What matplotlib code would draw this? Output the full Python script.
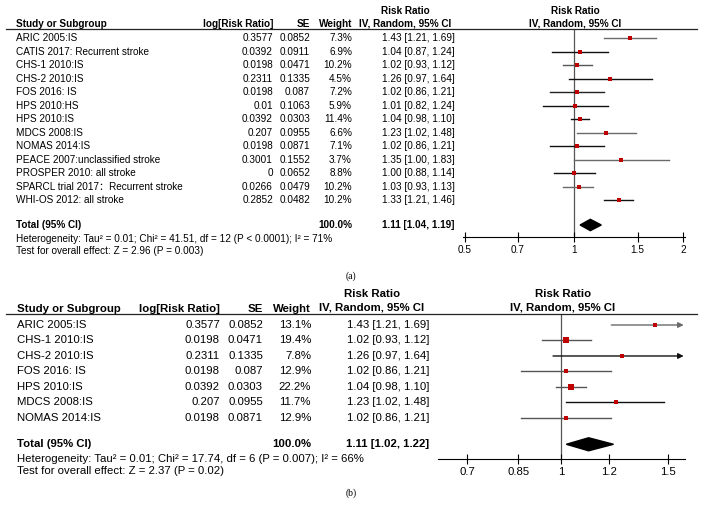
import matplotlib
matplotlib.use('Agg')
import matplotlib.pyplot as plt
from matplotlib.transforms import blended_transform_factory
from matplotlib.lines import Line2D

plt.rcParams['font.family'] = ['Liberation Sans', 'Noto Sans CJK SC', 'DejaVu Sans']

# ---- data, panel (a) ----
studies_a = ['ARIC 2005:IS', 'CATIS 2017: Recurrent stroke', 'CHS-1 2010:IS', 'CHS-2 2010:IS',
             'FOS 2016: IS', 'HPS 2010:HS', 'HPS 2010:IS', 'MDCS 2008:IS', 'NOMAS 2014:IS',
             'PEACE 2007:unclassified stroke', 'PROSPER 2010: all stroke',
             'SPARCL trial 2017\uff1aRecurrent stroke', 'WHI-OS 2012: all stroke']
logrr_a = ['0.3577', '0.0392', '0.0198', '0.2311', '0.0198', '0.01', '0.0392', '0.207',
           '0.0198', '0.3001', '0', '0.0266', '0.2852']
se_a = ['0.0852', '0.0911', '0.0471', '0.1335', '0.087', '0.1063', '0.0303', '0.0955',
        '0.0871', '0.1552', '0.0652', '0.0479', '0.0482']
weight_a = [7.3, 6.9, 10.2, 4.5, 7.2, 5.9, 11.4, 6.6, 7.1, 3.7, 8.8, 10.2, 10.2]
rr_a = [1.43, 1.04, 1.02, 1.26, 1.02, 1.01, 1.04, 1.23, 1.02, 1.35, 1.00, 1.03, 1.33]
lo_a = [1.21, 0.87, 0.93, 0.97, 0.86, 0.82, 0.98, 1.02, 0.86, 1.00, 0.88, 0.93, 1.21]
hi_a = [1.69, 1.24, 1.12, 1.64, 1.21, 1.24, 1.10, 1.48, 1.21, 1.83, 1.14, 1.13, 1.46]
total_a = (1.11, 1.04, 1.19)
het_a = 'Heterogeneity: Tau\u00b2 = 0.01; Chi\u00b2 = 41.51, df = 12 (P < 0.0001); I\u00b2 = 71%'
eff_a = 'Test for overall effect: Z = 2.96 (P = 0.003)'
ticks_a = [0.5, 0.7, 1, 1.5, 2]

# ---- data, panel (b) ----
studies_b = ['ARIC 2005:IS', 'CHS-1 2010:IS', 'CHS-2 2010:IS', 'FOS 2016: IS', 'HPS 2010:IS',
             'MDCS 2008:IS', 'NOMAS 2014:IS']
logrr_b = ['0.3577', '0.0198', '0.2311', '0.0198', '0.0392', '0.207', '0.0198']
se_b = ['0.0852', '0.0471', '0.1335', '0.087', '0.0303', '0.0955', '0.0871']
weight_b = [13.1, 19.4, 7.8, 12.9, 22.2, 11.7, 12.9]
rr_b = [1.43, 1.02, 1.26, 1.02, 1.04, 1.23, 1.02]
lo_b = [1.21, 0.93, 0.97, 0.86, 0.98, 1.02, 0.86]
hi_b = [1.69, 1.12, 1.64, 1.21, 1.10, 1.48, 1.21]
total_b = (1.11, 1.02, 1.22)
het_b = 'Heterogeneity: Tau\u00b2 = 0.01; Chi\u00b2 = 17.74, df = 6 (P = 0.007); I\u00b2 = 66%'
eff_b = 'Test for overall effect: Z = 2.37 (P = 0.02)'
ticks_b = [0.7, 0.85, 1, 1.2, 1.5]

# CI line shades as they appear in the figure
shade_a = ['#6a6a6a', '#111111', '#555555', '#111111', '#222222', '#111111', '#111111',
           '#6a6a6a', '#111111', '#6a6a6a', '#111111', '#6a6a6a', '#111111']
shade_b = ['#6a6a6a', '#555555', '#111111', '#555555', '#555555', '#111111', '#555555']

W, H = 702, 522
fig = plt.figure(figsize=(W / 100, H / 100), dpi=100)
RED = '#c00000'


def fx(px):
    return px / W


def fy(py):
    return 1 - py / H


def panel(box, xlim, ylim, studies, logrr, se, weight, rr, lo, hi, total, het, eff, ticks,
          shade, cols, fs, y_total, y_het, y_eff, msk, dh, label, label_y, hdr):
    left, right, top, bottom = box
    ax = fig.add_axes([fx(left), fy(bottom), fx(right - left), (bottom - top) / H])
    ax.set_xscale('log')
    ax.set_xlim(*xlim)
    ax.set_ylim(*ylim)
    for s in ['top', 'right', 'left']:
        ax.spines[s].set_visible(False)
    ax.spines['bottom'].set_linewidth(0.8)
    ax.set_yticks([])
    ax.set_xticks(ticks)
    ax.set_xticklabels([('%g' % t) for t in ticks], fontsize=fs)
    ax.minorticks_off()
    ax.tick_params(axis='x', direction='inout', length=7, width=0.8, pad=2)
    ax.axvline(1, color='#555555', lw=0.9, zorder=1)

    n = len(studies)
    for i in range(n):
        x0, x1 = lo[i], hi[i]
        if x1 > xlim[1]:
            ax.annotate('', xy=(xlim[1] * 0.995, i), xytext=(x0, i),
                        arrowprops=dict(arrowstyle='-|>', color=shade[i], lw=1.0,
                                        mutation_scale=8, shrinkA=0, shrinkB=0))
        else:
            ax.plot([x0, x1], [i, i], color=shade[i], lw=1.0, zorder=2)
        ms = max(2.6, msk * weight[i] ** 0.5)
        ax.plot(rr[i], i, marker='s', color=RED, markersize=ms, markeredgewidth=0, zorder=3)
    m, l, u = total
    ax.fill([l, m, u, m], [y_total, y_total - dh, y_total, y_total + dh], color='black',
            zorder=3)

    tr = blended_transform_factory(fig.transFigure, ax.transData)
    c_study, c_log, c_se, c_w, c_ci, ci_ha = cols
    for i in range(n):
        ax.text(fx(c_study), i, studies[i], transform=tr, fontsize=fs, va='center', ha='left')
        ax.text(fx(c_log), i, logrr[i], transform=tr, fontsize=fs, va='center', ha='right')
        ax.text(fx(c_se), i, se[i], transform=tr, fontsize=fs, va='center', ha='right')
        ax.text(fx(c_w), i, '%.1f%%' % weight[i], transform=tr, fontsize=fs, va='center',
                ha='right')
        ax.text(fx(c_ci), i, '%.2f [%.2f, %.2f]' % (rr[i], lo[i], hi[i]), transform=tr,
                fontsize=fs, va='center', ha=ci_ha)
    ax.text(fx(c_study), y_total, 'Total (95% CI)', transform=tr, fontsize=fs, va='center',
            ha='left', fontweight='bold')
    ax.text(fx(c_w), y_total, '100.0%', transform=tr, fontsize=fs, va='center', ha='right',
            fontweight='bold')
    ax.text(fx(c_ci), y_total, '%.2f [%.2f, %.2f]' % total, transform=tr, fontsize=fs,
            va='center', ha=ci_ha, fontweight='bold')
    fig.text(fx(c_study), fy(y_het), het, fontsize=fs, va='center', ha='left')
    fig.text(fx(c_study), fy(y_eff), eff, fontsize=fs, va='center', ha='left')

    # header
    hy_rr, hy_iv, hy_col, hline, x_rr1, x_rr2 = hdr
    for xc in (x_rr1, x_rr2):
        fig.text(fx(xc), fy(hy_rr), 'Risk Ratio', fontsize=fs, fontweight='bold',
                 ha='center', va='center')
        fig.text(fx(xc), fy(hy_iv), 'IV, Random, 95% CI', fontsize=fs, fontweight='bold',
                 ha='center', va='center')
    fig.text(fx(c_study), fy(hy_col), 'Study or Subgroup', fontsize=fs, fontweight='bold',
             ha='left', va='center')
    fig.text(fx(c_log), fy(hy_col), 'log[Risk Ratio]', fontsize=fs, fontweight='bold',
             ha='right', va='center')
    fig.text(fx(c_se), fy(hy_col), 'SE', fontsize=fs, fontweight='bold', ha='right',
             va='center')
    fig.text(fx(c_w), fy(hy_col), 'Weight', fontsize=fs, fontweight='bold', ha='right',
             va='center')
    fig.add_artist(Line2D([fx(6), fx(697)], [fy(hline), fy(hline)], color='#222222',
                          lw=0.9, transform=fig.transFigure))
    fig.text(fx(351), fy(label_y), label, fontsize=7, family='Liberation Serif',
             ha='center', va='center')
    return ax


# panel (a): rows 13.5 px apart, first row at y=38 px
panel(box=(463, 685, 29, 237), xlim=(0.494, 2.026), ylim=(14.74, -0.67),
      studies=studies_a, logrr=logrr_a, se=se_a, weight=weight_a, rr=rr_a, lo=lo_a, hi=hi_a,
      total=total_a, het=het_a, eff=eff_a, ticks=ticks_a, shade=shade_a,
      cols=(16, 273, 310, 352, 382, 'left'), fs=7.2, y_total=13.85, y_het=239, y_eff=251,
      msk=1.0, dh=0.42, label='(a)', label_y=276, hdr=(11, 23, 24, 29, 405, 575))

# panel (b): rows 15.5 px apart, first row at y=325 px
panel(box=(438, 685, 314, 459), xlim=(0.627, 1.60), ylim=(8.65, -0.71),
      studies=studies_b, logrr=logrr_b, se=se_b, weight=weight_b, rr=rr_b, lo=lo_b, hi=hi_b,
      total=total_b, het=het_b, eff=eff_b, ticks=ticks_b, shade=shade_b,
      cols=(17, 220, 263, 311, 429, 'right'), fs=8.2, y_total=7.7, y_het=458.5, y_eff=471,
      msk=0.85, dh=0.42, label='(b)', label_y=493, hdr=(294, 308, 309, 314, 372, 563))

fig.savefig('out.png', dpi=100)
